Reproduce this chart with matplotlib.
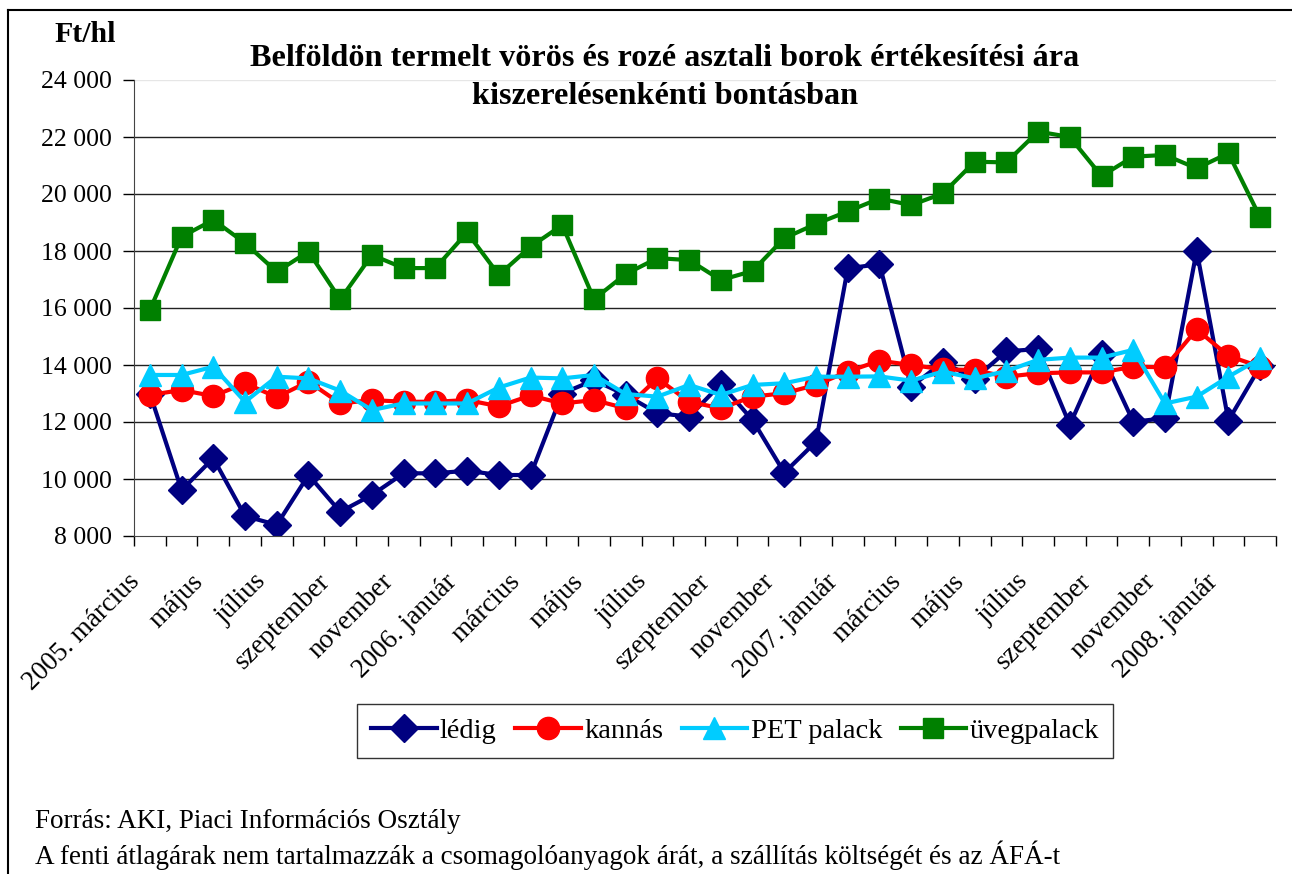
import matplotlib
matplotlib.use('Agg')
import matplotlib.pyplot as plt
from matplotlib.lines import Line2D
from matplotlib.transforms import ScaledTranslation

plt.rcParams['font.family'] = ['Liberation Serif', 'DejaVu Serif']

# hónapok: 2005. március - 2008. február
months = ['2005. március', 'április', 'május', 'június', 'július', 'augusztus',
          'szeptember', 'október', 'november', 'december',
          '2006. január', 'február', 'március', 'április', 'május', 'június',
          'július', 'augusztus', 'szeptember', 'október', 'november', 'december',
          '2007. január', 'február', 'március', 'április', 'május', 'június',
          'július', 'augusztus', 'szeptember', 'október', 'november', 'december',
          '2008. január', 'február']

ledig = [13000, 9610, 10730, 8700, 8390, 10140, 8850, 9440, 10200, 10200,
         10290, 10140, 10140, 13000, 13470, 12950, 12310, 12190, 13330, 12070,
         10220, 11310, 17390, 17540, 13240, 14100, 13520, 14480, 14560, 11900,
         14400, 12010, 12130, 18010, 12050, 13950]

kannas = [12950, 13120, 12910, 13360, 12870, 13420, 12650, 12770, 12710, 12710,
          12770, 12550, 12930, 12650, 12770, 12480, 13530, 12710, 12480, 12890,
          13010, 13300, 13770, 14150, 14000, 13850, 13820, 13590, 13710, 13740,
          13740, 13940, 13920, 15250, 14320, 13940]

pet = [13650, 13650, 13940, 12710, 13590, 13530, 13100, 12420, 12650, 12650,
       12650, 13210, 13560, 13530, 13650, 12980, 12890, 13300, 12950, 13300,
       13360, 13590, 13590, 13600, 13450, 13770, 13530, 13790, 14180, 14260,
       14260, 14530, 12650, 12890, 13590, 14230]

uveg = [15930, 18500, 19090, 18280, 17270, 17980, 16300, 17860, 17400, 17400,
        18650, 17160, 18150, 18910, 16310, 17190, 17750, 17680, 16980, 17300,
        18450, 18950, 19390, 19840, 19610, 20020, 21130, 21110, 22190, 22000,
        20630, 21310, 21370, 20900, 21430, 19180]

y_ticks = list(range(8000, 24001, 2000))

fig = plt.figure(figsize=(12.92, 8.74), dpi=100)
ax = fig.add_axes([134 / 1292, 1 - 536 / 874, (1276 - 134) / 1292, (536 - 80) / 874])

x = list(range(len(months)))
ax.plot(x, ledig, color='#000080', lw=3, marker='D', ms=14, label='lédig')
ax.plot(x, kannas, color='#FF0000', lw=3, marker='o', ms=16, label='kannás')
ax.plot(x, pet, color='#00CCFF', lw=3, marker='^', ms=16, label='PET palack')
ax.plot(x, uveg, color='#008000', lw=3, marker='s', ms=14.5, label='üvegpalack')

ax.set_xlim(-0.5, len(months) - 0.5)
ax.set_ylim(8000, 24000)

# y tengely
ax.set_yticks(y_ticks)
ax.set_yticklabels([f'{v:,}'.replace(',', ' ') for v in y_ticks], fontsize=18.5)
ax.tick_params(axis='y', direction='out', length=8, width=1, pad=8)
for v in y_ticks[1:]:
    ax.axhline(v, color='#e6e6e6' if v == 24000 else '#222222', lw=1, zorder=0)

# x tengely: osztásjelek a kategóriák között, felirat minden második hónapnál
ax.set_xticks([i - 0.5 for i in range(len(months) + 1)])
ax.set_xticklabels([])
ax.tick_params(axis='x', which='major', direction='out', length=7, width=1)
lab_tr = ax.get_xaxis_transform() + ScaledTranslation(-0.14, -0.42, fig.dpi_scale_trans)
for i in x[::2]:
    ax.text(i, 0, months[i], transform=lab_tr, rotation=45, ha='right', va='center',
            rotation_mode='anchor', fontsize=19.5)

for s in ['top', 'right']:
    ax.spines[s].set_visible(False)
ax.spines['left'].set_color('#444444')
ax.spines['bottom'].set_color('#444444')

fig.text(85 / 1292, 1 - 35 / 874, 'Ft/hl', fontsize=21.5, fontweight='bold',
         ha='center', va='center')
fig.text(665 / 1292, 1 - 58 / 874,
         'Belföldön termelt vörös és rozé asztali borok értékesítési ára',
         fontsize=23.2, fontweight='bold', ha='center', va='center')
fig.text(665 / 1292, 1 - 96 / 874, 'kiszerelésenkénti bontásban',
         fontsize=23.2, fontweight='bold', ha='center', va='center')

leg = fig.legend(loc='center', bbox_to_anchor=(735 / 1292, 1 - 731 / 874), ncol=4,
                 fontsize=20.5, frameon=True, fancybox=False, edgecolor='black',
                 handlelength=2.3, columnspacing=0.65, handletextpad=0.12,
                 borderpad=0.5, borderaxespad=0)
leg.get_frame().set_linewidth(1)

fig.text(35 / 1292, 1 - 822 / 874, 'Forrás: AKI, Piaci Információs Osztály',
         fontsize=19.5, ha='left', va='center')
fig.text(35 / 1292, 1 - 855 / 874,
         'A fenti átlagárak nem tartalmazzák a csomagolóanyagok árát, '
         'a szállítás költségét és az ÁFÁ-t',
         fontsize=19.5, ha='left', va='center')

# külső keret (felső és bal oldal)
fig.add_artist(Line2D([8 / 1292, 1], [1 - 10 / 874] * 2, color='black', lw=1.5,
                      transform=fig.transFigure))
fig.add_artist(Line2D([8 / 1292] * 2, [0, 1 - 10 / 874], color='black', lw=1.5,
                      transform=fig.transFigure))

fig.savefig('out.png', dpi=100)
